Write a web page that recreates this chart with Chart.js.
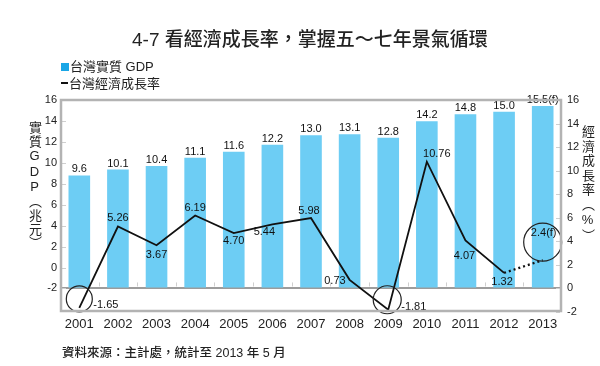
<!DOCTYPE html>
<html>
<head>
<meta charset="utf-8">
<script src="https://cdn.jsdelivr.net/npm/chart.js@4.4.1/dist/chart.umd.min.js"></script>
<style>
  html, body { margin: 0; padding: 0; background: #fff; }
  #wrap { position: relative; width: 600px; height: 366px; overflow: hidden;
          font-family: "Liberation Sans", "Noto Sans CJK TC", sans-serif; color: #222; }
  #c { position: absolute; left: 0; top: 0; }
  .abs { position: absolute; white-space: nowrap; }
  #title { left: 132px; top: 30px; font-size: 19px; line-height: 20px; font-weight: 500; }
  .leg { left: 61px; font-size: 13px; line-height: 16px; }
  .sq { display: inline-block; width: 8px; height: 8px; background: #1aa6e6; margin-right: 1px; vertical-align: 0px; }
  .dash { display: inline-block; width: 7px; height: 2px; background: #111; margin-right: 1px; vertical-align: 4px; }
  .vt { writing-mode: vertical-rl; text-orientation: upright; font-size: 13px; line-height: 14px; }
  #ytl { left: 27px; top: 121px; letter-spacing: 0.6px; }
  #ytr { left: 580px; top: 125px; letter-spacing: 1.5px; }
  #src { left: 62px; top: 345px; font-size: 12.5px; line-height: 16px; font-weight: 500; }
</style>
</head>
<body>
<div id="wrap">
  <canvas id="c" width="600" height="366"></canvas>
  <div id="title" class="abs">4-7 看經濟成長率，掌握五～七年景氣循環</div>
  <div class="abs leg" style="top:59px"><span class="sq"></span>台灣實質 GDP</div>
  <div class="abs leg" style="top:76px"><span class="dash"></span>台灣經濟成長率</div>
  <div id="ytl" class="abs vt">實質GDP（兆元）</div>
  <div id="ytr" class="abs vt">經濟成長率（%）</div>
  <div id="src" class="abs">資料來源：主計處，統計至 2013 年 5 月</div>
</div>
<script>
  // ====== DATOS ======
  const years = ['2001', '2002', '2003', '2004', '2005', '2006', '2007', '2008', '2009', '2010', '2011', '2012', '2013'];
  const gdp = [9.6, 10.1, 10.4, 11.1, 11.6, 12.2, 13.0, 13.1, 12.8, 14.2, 14.8, 15.0, 15.5];
  const growth = [-1.65, 5.26, 3.67, 6.19, 4.70, 5.44, 5.98, 0.73, -1.81, 10.76, 4.07, 1.32, 2.4];
  const leftTicks = [-2, 0, 2, 4, 6, 8, 10, 12, 14, 16];
  const circled = [0, 8, 12];

  // label placement for the growth line: [dx, dy, align]
  const growthLabelPos = [
    [14, -3, 'left'], [0, -9, 'center'], [0, 10, 'center'], [0, -8, 'center'],
    [0, 8, 'center'], [-8, 8, 'center'], [-2, -7, 'center'], [-4, 1, 'right'],
    [13, -3, 'left'], [10, -8, 'center'], [-1, 15, 'center'], [-2, 9, 'center'],
    [1, -27, 'center']
  ];
  // circle offsets: [dx, dy, r]
  const circleStyle = { 0: [0, -9, 13], 8: [-1, -10, 14], 12: [0, -18, 19] };

  const last = years.length - 1;
  const font = (s) => ({ family: '"Liberation Sans", "Noto Sans CJK TC", sans-serif', size: s });

  const decor = {
    id: 'decor',
    afterDatasetsDraw(chart) {
      const { ctx, chartArea: a, scales } = chart;
      const y = scales.y, y1 = scales.y1, x = scales.x;
      ctx.save();

      // inward tick marks
      ctx.strokeStyle = '#cfcfcf';
      ctx.lineWidth = 1;
      ctx.beginPath();
      leftTicks.forEach(v => {
        const py = Math.round(y.getPixelForValue(v)) + 0.5;
        ctx.moveTo(a.left + 2, py); ctx.lineTo(a.left + 6, py);
      });
      y1.ticks.forEach(t => {
        const py = Math.round(y1.getPixelForValue(t.value)) + 0.5;
        ctx.moveTo(a.right - 6, py); ctx.lineTo(a.right - 2, py);
      });
      const zero = y1.getPixelForValue(0);
      for (let i = 1; i < years.length; i++) {
        const px = Math.round((x.getPixelForValue(i - 1) + x.getPixelForValue(i)) / 2) + 0.5;
        ctx.moveTo(px, zero - 6); ctx.lineTo(px, zero - 2);
      }
      ctx.stroke();

      // bar labels
      ctx.fillStyle = '#111';
      ctx.font = '11px "Liberation Sans", sans-serif';
      ctx.textBaseline = 'middle';
      ctx.textAlign = 'center';
      gdp.forEach((v, i) => {
        const txt = v.toFixed(1) + (i === last ? '(f)' : '');
        ctx.fillText(txt, x.getPixelForValue(i), y1.getPixelForValue(v) - 6);
      });

      // line labels
      growth.forEach((v, i) => {
        const [dx, dy, al] = growthLabelPos[i];
        const txt = i === last ? v + '(f)' : v.toFixed(2);
        ctx.textAlign = al;
        ctx.fillText(txt, x.getPixelForValue(i) + dx, y1.getPixelForValue(v) + dy);
      });

      // circles
      ctx.strokeStyle = '#222';
      ctx.lineWidth = 1.2;
      circled.forEach(i => {
        const [dx, dy, r] = circleStyle[i];
        ctx.beginPath();
        ctx.arc(x.getPixelForValue(i) + dx, y1.getPixelForValue(growth[i]) + dy, r, 0, Math.PI * 2);
        ctx.stroke();
      });

      // frame
      ctx.strokeStyle = '#b3b3b3';
      ctx.lineWidth = 2.5;
      ctx.strokeRect(a.left + 1, a.top, a.right - a.left - 2, a.bottom - a.top - 1);
      ctx.restore();
    }
  };

  new Chart(document.getElementById('c'), {
    data: {
      labels: years,
      datasets: [
        {
          type: 'line', label: '台灣經濟成長率', data: growth, yAxisID: 'y1', order: 0,
          borderColor: '#111', borderWidth: 1.8, pointRadius: 0, tension: 0,
          segment: {
            borderDash: (c) => c.p1DataIndex === last ? [2, 3] : undefined,
            borderWidth: (c) => c.p1DataIndex === last ? 2.3 : undefined
          }
        },
        {
          type: 'bar', label: '台灣實質 GDP', data: gdp, yAxisID: 'y1', order: 1,
          backgroundColor: '#6dcdf4', barPercentage: 0.56, categoryPercentage: 1
        }
      ]
    },
    options: {
      responsive: false,
      devicePixelRatio: 1,
      animation: false,
      layout: { padding: { top: 100, left: 0, right: 0, bottom: 0 } },
      plugins: { legend: { display: false }, tooltip: { enabled: false } },
      scales: {
        x: {
          grid: { display: false, drawTicks: false },
          border: { display: false },
          ticks: { color: '#222', font: font(13), padding: 5, maxRotation: 0 },
          afterFit(s) { s.height = 54; }
        },
        y: {
          position: 'left', min: -4.25, max: 16,
          grid: { display: false, drawTicks: false },
          border: { display: false },
          ticks: { color: '#222', font: font(11), padding: 3 },
          afterBuildTicks(s) { s.ticks = leftTicks.map(v => ({ value: v })); },
          afterFit(s) { s.width = 60; }
        },
        y1: {
          position: 'right', min: -2, max: 16,
          grid: {
            drawTicks: false, lineWidth: 2,
            color: (c) => c.tick && c.tick.value === 0 ? '#9c9c9c' : 'rgba(0,0,0,0)'
          },
          border: { display: false },
          ticks: { color: '#222', font: font(11), padding: 5, stepSize: 2 },
          afterFit(s) { s.width = 38; }
        }
      }
    },
    plugins: [decor]
  });
</script>
</body>
</html>
